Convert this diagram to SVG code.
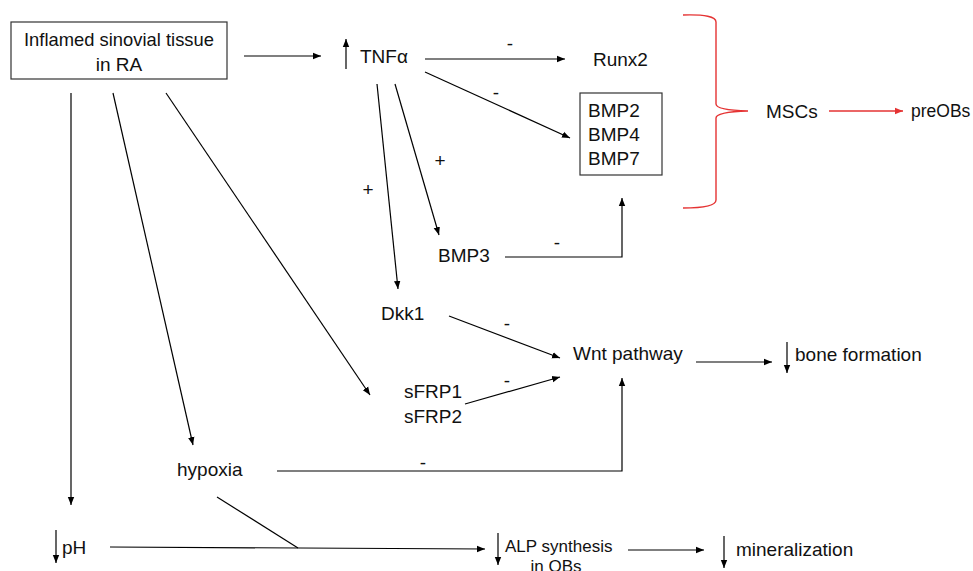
<svg xmlns="http://www.w3.org/2000/svg" width="973" height="571" viewBox="0 0 973 571">
<defs>
<style>
text{font-family:"Liberation Sans",Arial,sans-serif;font-size:19px;fill:#111}
.c{text-anchor:middle}
.ln{stroke:#000;stroke-width:1.2;fill:none}
.red{stroke:#e53333;stroke-width:1.4;fill:none}
.box{fill:#fff;stroke:#333;stroke-width:1.2}
</style>
<marker id="ah" viewBox="0 0 10 10" refX="10" refY="5" markerWidth="8" markerHeight="8" markerUnits="userSpaceOnUse" orient="auto"><path d="M0,1 L10,5 L0,9 z" fill="#000"/></marker>
<marker id="ahr" viewBox="0 0 10 10" refX="10" refY="5" markerWidth="8" markerHeight="8" markerUnits="userSpaceOnUse" orient="auto"><path d="M0,1 L10,5 L0,9 z" fill="#e53333"/></marker>
</defs>
<g id="connectors">
<line class="ln" x1="244" y1="56" x2="321" y2="56" marker-end="url(#ah)"/>
<line class="ln" x1="425" y1="59" x2="565" y2="59" marker-end="url(#ah)"/>
<line class="ln" x1="425" y1="72" x2="570" y2="138" marker-end="url(#ah)"/>
<line class="ln" x1="377" y1="84" x2="398" y2="289" marker-end="url(#ah)"/>
<line class="ln" x1="395" y1="84" x2="439" y2="235" marker-end="url(#ah)"/>
<polyline class="ln" points="505,257 622,257 622,198" marker-end="url(#ah)"/>
<line class="ln" x1="449" y1="316" x2="560" y2="358" marker-end="url(#ah)"/>
<line class="ln" x1="465" y1="404" x2="560" y2="377" marker-end="url(#ah)"/>
<line class="ln" x1="696" y1="362" x2="772" y2="362" marker-end="url(#ah)"/>
<line class="ln" x1="71" y1="93" x2="71" y2="505" marker-end="url(#ah)"/>
<line class="ln" x1="113" y1="93" x2="193" y2="445" marker-end="url(#ah)"/>
<line class="ln" x1="166" y1="93" x2="370" y2="395" marker-end="url(#ah)"/>
<polyline class="ln" points="277,471 622,471 622,378" marker-end="url(#ah)"/>
<line class="ln" x1="217" y1="497" x2="298" y2="548"/>
<line class="ln" x1="110" y1="547" x2="485" y2="549" marker-end="url(#ah)"/>
<line class="ln" x1="628" y1="550" x2="704" y2="550" marker-end="url(#ah)"/>
<line class="red" x1="829" y1="111" x2="903" y2="111" marker-end="url(#ahr)"/>
<path class="red" d="M683,15 Q716,14 716,22 L716,104 Q716,110 748,111 Q716,112 716,118 L716,200 Q716,208 683,208"/>
<line class="ln" x1="346" y1="69" x2="346" y2="39" marker-end="url(#ah)"/>
<line class="ln" x1="787" y1="342" x2="787" y2="373" marker-end="url(#ah)"/>
<line class="ln" x1="56" y1="530" x2="56" y2="563" marker-end="url(#ah)"/>
<line class="ln" x1="498" y1="533" x2="498" y2="565" marker-end="url(#ah)"/>
<line class="ln" x1="724" y1="536" x2="724" y2="568" marker-end="url(#ah)"/>
<text x="510" y="50" class="c">-</text>
<text x="496" y="99" class="c">-</text>
<text x="440" y="167" class="c">+</text>
<text x="368" y="196" class="c">+</text>
<text x="557" y="249" class="c">-</text>
<text x="507" y="330" class="c">-</text>
<text x="507" y="387" class="c">-</text>
<text x="423" y="469" class="c">-</text>
</g>
<g id="inflamed">
<rect class="box" x="11" y="22" width="216" height="57"/>
<text x="119" y="46" class="c" textLength="190" lengthAdjust="spacingAndGlyphs">Inflamed sinovial tissue</text>
<text x="119" y="71" class="c">in RA</text>
</g>
<g id="tnfa"><text x="360" y="63">TNFα</text></g>
<g id="runx2"><text x="593" y="66">Runx2</text></g>
<g id="bmp">
<rect class="box" x="580" y="93" width="82" height="82"/>
<text x="588" y="117">BMP2</text>
<text x="588" y="141">BMP4</text>
<text x="588" y="165">BMP7</text>
</g>
<g id="mscs"><text x="766" y="118">MSCs</text></g>
<g id="preobs"><text x="911" y="117" style="font-size:17.5px">preOBs</text></g>
<g id="bmp3"><text x="438" y="262">BMP3</text></g>
<g id="dkk1"><text x="381" y="320">Dkk1</text></g>
<g id="sfrp">
<text x="404" y="398">sFRP1</text>
<text x="404" y="423">sFRP2</text>
</g>
<g id="wnt"><text x="573" y="360">Wnt pathway</text></g>
<g id="bone"><text x="795" y="361">bone formation</text></g>
<g id="hypoxia"><text x="177" y="476">hypoxia</text></g>
<g id="ph"><text x="62" y="554">pH</text></g>
<g id="alp">
<text x="505" y="552" style="font-size:17px">ALP synthesis</text>
<text x="556" y="572" class="c" style="font-size:17px">in OBs</text>
</g>
<g id="mineral"><text x="736" y="556">mineralization</text></g>
</svg>
